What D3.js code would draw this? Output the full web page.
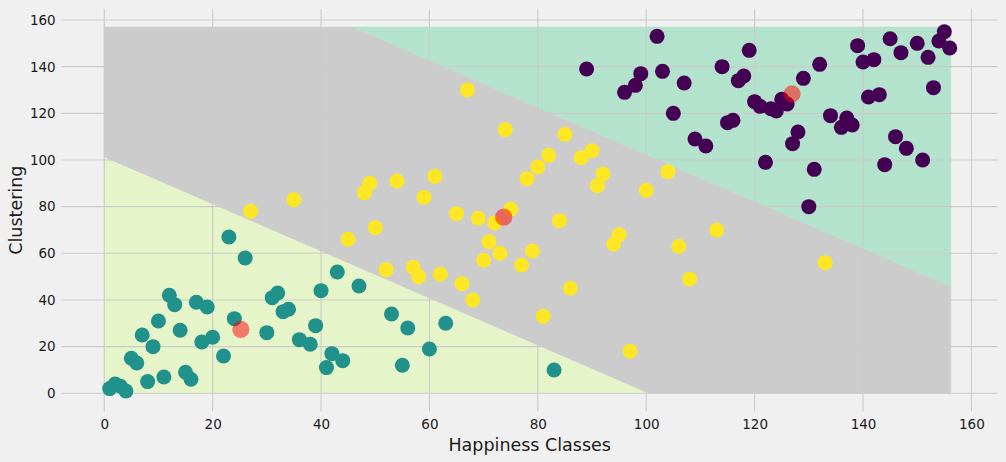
<!DOCTYPE html>
<html>
<head>
<meta charset="utf-8">
<script src="https://cdn.jsdelivr.net/npm/d3@7"></script>
<style>
html,body{margin:0;padding:0;background:#f0f0f0;}
svg{display:block;font-family:"DejaVu Sans",sans-serif;}
</style>
</head>
<body>
<svg id="chart" width="1006" height="462"></svg>
<script>
// ---- data ----
const xTicks = [0, 20, 40, 60, 80, 100, 120, 140, 160];
const yTicks = [0, 20, 40, 60, 80, 100, 120, 140, 160];
const xLabel = "Happiness Classes";
const yLabel = "Clustering";

// cluster 1 (teal)
const tealX = [1,2,3,4,5,6,7,8,9,10,11,12,13,14,15,16,17,18,19,20,22,23,24,26,30,31,32,33,34,36,38,39,40,41,42,43,44,47,53,55,56,60,63,83];
const tealY = [2,4,3,1,15,13,25,5,20,31,7,42,38,27,9,6,39,22,37,24,16,67,32,58,26,41,43,35,36,23,21,29,44,11,17,52,14,46,34,12,28,19,30,10];
// cluster 2 (yellow)
const yellowX = [27,35,45,48,49,50,52,54,57,58,59,61,62,65,66,67,68,69,70,71,72,73,74,75,77,78,79,80,81,82,84,85,86,88,90,91,92,94,95,97,100,104,106,108,113,133];
const yellowY = [78,83,66,86,90,71,53,91,54,50,84,93,51,77,47,130,40,75,57,65,73,60,113,79,55,92,61,97,33,102,74,111,45,101,104,89,94,64,68,18,87,95,63,49,70,56];
// cluster 0 (purple)
const purpleX = [89,96,98,99,102,103,105,107,109,111,114,115,116,117,118,119,120,121,122,123,124,125,126,127,128,129,130,131,132,134,136,137,138,139,140,141,142,143,144,145,146,147,148,150,151,152,153,154,155,156];
const purpleY = [139,129,132,137,153,138,120,133,109,106,140,116,117,134,136,147,125,123,99,122,121,126,124,107,112,135,80,96,141,119,114,118,115,149,142,127,143,128,98,152,110,146,105,150,100,144,131,151,155,148];

// centroids (cluster order: purple, teal, yellow)
const centroidX = [126.9, 25.2, 73.7];
const centroidY = [128.3, 27.4, 75.5];

// decision-region colours per cluster (same order as centroids)
const regionColors = ["#b3e2cd", "#e6f5c9", "#cccccc"];
const pointColors = ["#440154", "#21918c", "#fde725"];
const regionExtent = [0, 0, 156.2, 157];  // x0, y0, x1, y1

// ---- drawing ----
const svg = d3.select("#chart");
const W = 1006, H = 462;
svg.append("rect").attr("width", W).attr("height", H).attr("fill", "#f0f0f0");

const x = d3.scaleLinear().domain([-7.85, 164.85]).range([61.7, 997.7]);
const y = d3.scaleLinear().domain([-7.85, 164.85]).range([411.6, 8.7]);

// decision regions (Voronoi of centroids in data space, clipped to mesh extent)
const cData = centroidX.map((cx, i) => [cx, centroidY[i]]);
const delaunay = d3.Delaunay.from(cData);
const vor = delaunay.voronoi(regionExtent);
const gReg = svg.append("g");
const line = d3.line().x(d => x(d[0])).y(d => y(d[1]));
cData.forEach((p, i) => {
  const poly = vor.cellPolygon(i);
  if (!poly) return;
  gReg.append("path").attr("d", line(poly) + "Z").attr("fill", regionColors[i]).attr("stroke", regionColors[i]).attr("stroke-width", 0.5);
});

// grid
const gGrid = svg.append("g").attr("stroke", "#cbcbcb").attr("stroke-width", 1.1);
xTicks.forEach(t => gGrid.append("line").attr("x1", x(t)).attr("x2", x(t)).attr("y1", y.range()[1]).attr("y2", y.range()[0]));
yTicks.forEach(t => gGrid.append("line").attr("y1", y(t)).attr("y2", y(t)).attr("x1", x.range()[0]).attr("x2", x.range()[1]));

// axes (labels only, no spines)
const xAxis = d3.axisBottom(x).tickValues(xTicks).tickSize(0).tickPadding(8).tickFormat(d3.format("d"));
const yAxis = d3.axisLeft(y).tickValues(yTicks).tickSize(0).tickPadding(6).tickFormat(d3.format("d"));
const gx = svg.append("g").attr("transform", `translate(0,${y.range()[0]})`).call(xAxis);
const gy = svg.append("g").attr("transform", `translate(${x.range()[0]},0)`).call(yAxis);
[gx, gy].forEach(g => {
  g.select(".domain").remove();
  g.selectAll("text").attr("font-size", 13.5).attr("fill", "#1a1a1a").attr("font-family", "DejaVu Sans, sans-serif");
});

// points
const gPts = svg.append("g");
function drawSet(xs, ys, color) {
  gPts.selectAll(null).data(xs.map((v, i) => [v, ys[i]])).enter().append("circle")
    .attr("cx", d => x(d[0])).attr("cy", d => y(d[1])).attr("r", 7.5).attr("fill", color);
}
drawSet(tealX, tealY, pointColors[1]);
drawSet(yellowX, yellowY, pointColors[2]);
drawSet(purpleX, purpleY, pointColors[0]);

// centroids
svg.append("g").selectAll("circle").data(cData).enter().append("circle")
  .attr("cx", d => x(d[0])).attr("cy", d => y(d[1])).attr("r", 8.6)
  .attr("fill", "red").attr("fill-opacity", 0.5);

// axis titles
svg.append("text").attr("x", (x.range()[0] + x.range()[1]) / 2).attr("y", 451)
  .attr("text-anchor", "middle").attr("font-size", 17.5).attr("fill", "#1a1a1a").text(xLabel);
svg.append("text").attr("transform", `translate(22,${(y.range()[0] + y.range()[1]) / 2}) rotate(-90)`)
  .attr("text-anchor", "middle").attr("font-size", 17.5).attr("fill", "#1a1a1a").text(yLabel);
</script>
</body>
</html>
